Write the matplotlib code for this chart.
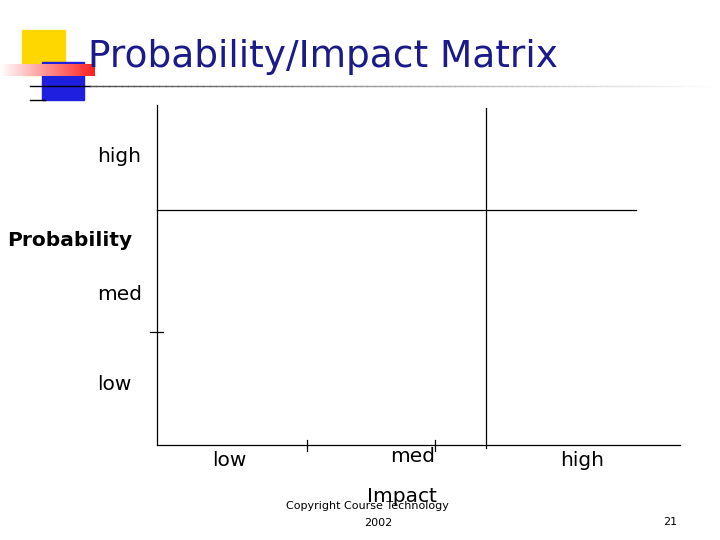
import matplotlib
matplotlib.use("Agg")
import matplotlib.pyplot as plt
from matplotlib.patches import Rectangle
from matplotlib.colors import LinearSegmentedColormap
import numpy as np

title = "Probability/Impact Matrix"
row_labels = ["high", "med", "low"]
col_labels = ["low", "med", "high"]
y_axis_label = "Probability"
x_axis_label = "Impact"
footer = ["Copyright Course Technology", "2002"]
page = "21"

fig = plt.figure(figsize=(7.2, 5.4), dpi=100)
ax = fig.add_axes([0, 0, 1, 1])
ax.set_xlim(0, 720); ax.set_ylim(540, 0); ax.axis("off")

# decoration
ax.add_patch(Rectangle((22, 30), 43, 45, color="#FFD700", zorder=1))
ax.add_patch(Rectangle((42, 62), 42, 38, color="#1F1FE0", zorder=2))
grad = np.linspace(1, 0, 200)[None, :]
cm = LinearSegmentedColormap.from_list("r", ["#FF2020", "#FFFFFF"])
ax.imshow(grad, extent=(0, 95, 76, 64), cmap=cm, aspect="auto", zorder=3)
ax.plot([30, 90], [86, 86], color="black", lw=1, zorder=4)
gl = np.linspace(0.3, 1, 100)
for i in range(99):
    x0 = 90 + i * 6.3
    ax.plot([x0, x0 + 6.3], [86, 86], color=(gl[i],) * 3, lw=1, zorder=4)
ax.plot([30, 45], [100, 100], color="black", lw=1, zorder=4)
ax.text(88, 57, title, fontsize=27, color="#1a1a8a", va="center", ha="left",
        zorder=5, family="DejaVu Sans Condensed" if False else None)

# grid lines
k = dict(color="black", lw=0.9)
ax.plot([157, 157], [105, 445], **k)
ax.plot([157, 680], [445, 445], **k)
ax.plot([157, 636], [210, 210], **k)
ax.plot([486, 486], [108, 448], **k)
ax.plot([307, 307], [440, 451], **k)
ax.plot([435, 435], [440, 451], **k)
ax.plot([150, 163], [332, 332], **k)

fs = 14.5
for lab, y in zip(row_labels, [157, 295, 384]):
    ax.text(97, y, lab, fontsize=fs, va="center", ha="left")
ax.text(7, 241, y_axis_label, fontsize=fs, weight="bold", va="center", ha="left")
for lab, x, y in zip(col_labels, [212, 390, 560], [461, 457, 461]):
    ax.text(x, y, lab, fontsize=fs, va="center", ha="left")
ax.text(367, 497, x_axis_label, fontsize=fs, va="center", ha="left")
ax.text(286, 506, footer[0], fontsize=8, va="center", ha="left")
ax.text(378, 523, footer[1], fontsize=8, va="center", ha="center")
ax.text(670, 522, page, fontsize=8, va="center", ha="center")

fig.savefig("out.png", dpi=100)
